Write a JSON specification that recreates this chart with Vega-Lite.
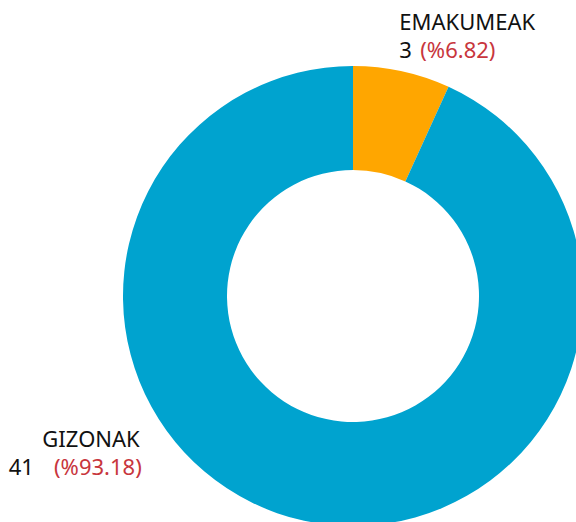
{
  "$schema": "https://vega.github.io/schema/vega-lite/v6.json",
  "width": 706,
  "height": 592,
  "autosize": {"type": "none"},
  "padding": 0,
  "background": "white",
  "config": {"view": {"stroke": null}, "text": {"font": "Noto Sans", "fontSize": 22}},
  "data": {"values": [
    {"cat": "EMAKUMEAK", "n": 3, "pct": "(%6.82)"},
    {"cat": "GIZONAK", "n": 41, "pct": "(%93.18)"}
  ]},
  "encoding": {
    "theta": {"field": "n", "type": "quantitative", "stack": true},
    "order": {"field": "cat", "type": "nominal", "sort": "ascending"}
  },
  "layer": [
    {
      "mark": {"type": "arc", "outerRadius": 230, "innerRadius": 126},
      "encoding": {
        "color": {"field": "cat", "type": "nominal", "scale": {"domain": ["EMAKUMEAK", "GIZONAK"], "range": ["#FFA600", "#00A3CF"]}, "legend": null}
      }
    },
    {
      "mark": {"type": "text", "radius": 260, "align": "left", "baseline": "alphabetic", "dx": -9, "dy": -12, "color": "#111111"},
      "encoding": {"detail": {"field": "cat"}, "text": {"condition": {"test": "datum.cat === 'EMAKUMEAK'", "field": "cat"}, "value": ""}}
    },
    {
      "mark": {"type": "text", "radius": 260, "align": "left", "baseline": "alphabetic", "dx": -9, "dy": 16, "color": "#111111"},
      "encoding": {"detail": {"field": "cat"}, "text": {"condition": {"test": "datum.cat === 'EMAKUMEAK'", "field": "n"}, "value": ""}}
    },
    {
      "mark": {"type": "text", "radius": 260, "align": "left", "baseline": "alphabetic", "dx": 12, "dy": 16, "color": "#C8363D"},
      "encoding": {"detail": {"field": "cat"}, "text": {"condition": {"test": "datum.cat === 'EMAKUMEAK'", "field": "pct"}, "value": ""}}
    },
    {
      "mark": {"type": "text", "radius": 260, "align": "right", "baseline": "alphabetic", "dx": -158, "dy": -103, "color": "#111111"},
      "encoding": {"detail": {"field": "cat"}, "text": {"condition": {"test": "datum.cat === 'GIZONAK'", "field": "cat"}, "value": ""}}
    },
    {
      "mark": {"type": "text", "radius": 260, "align": "left", "baseline": "alphabetic", "dx": -289, "dy": -75, "color": "#111111"},
      "encoding": {"detail": {"field": "cat"}, "text": {"condition": {"test": "datum.cat === 'GIZONAK'", "field": "n"}, "value": ""}}
    },
    {
      "mark": {"type": "text", "radius": 260, "align": "right", "baseline": "alphabetic", "dx": -156, "dy": -75, "color": "#C8363D"},
      "encoding": {"detail": {"field": "cat"}, "text": {"condition": {"test": "datum.cat === 'GIZONAK'", "field": "pct"}, "value": ""}}
    }
  ]
}
